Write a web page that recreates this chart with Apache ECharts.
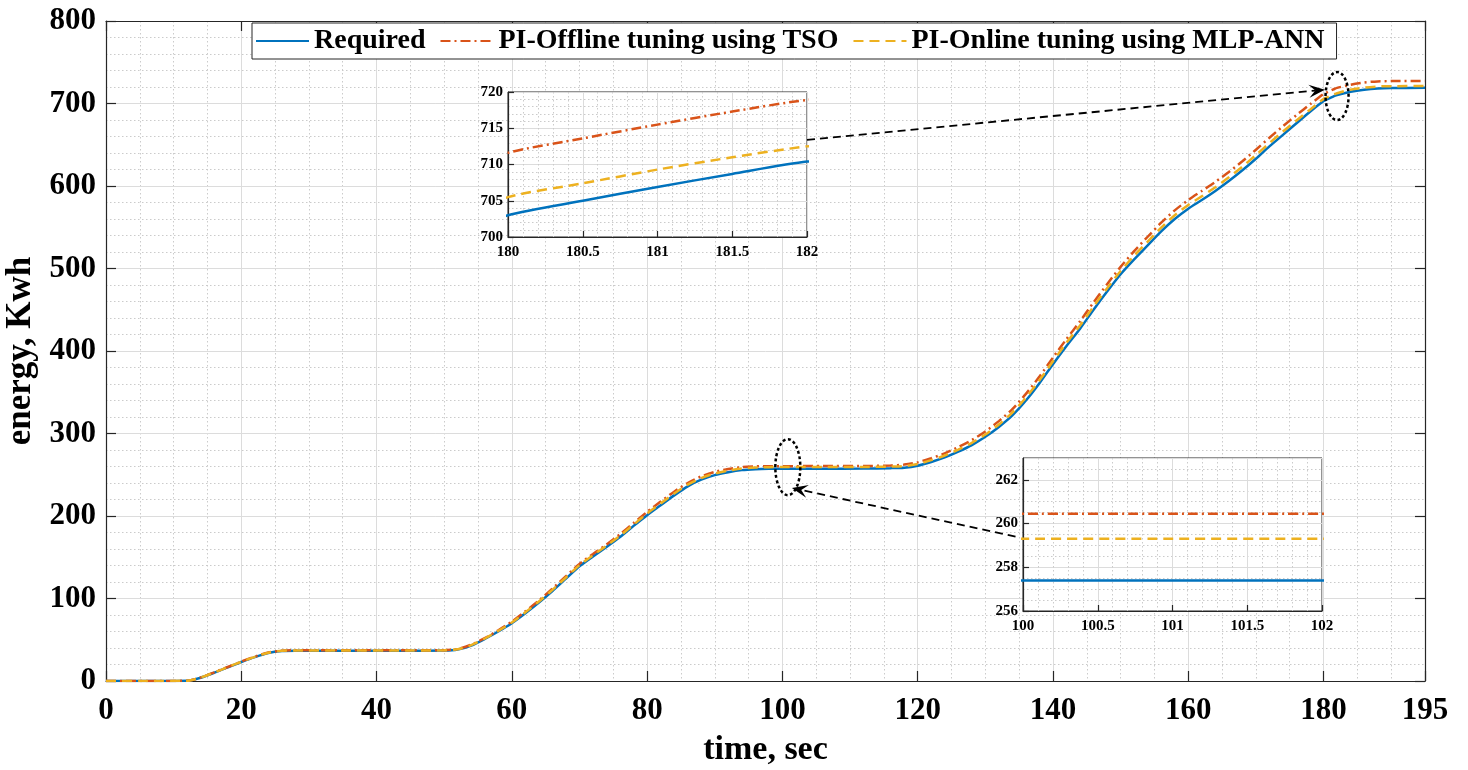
<!DOCTYPE html>
<html>
<head>
<meta charset="utf-8">
<title>energy vs time</title>
<script src="https://cdn.jsdelivr.net/npm/echarts@6/dist/echarts.min.js"></script>
<style>
  html, body { margin: 0; padding: 0; background: #fff; }
  #chart { width: 1468px; height: 770px; }
</style>
</head>
<body>
<div id="chart"></div>
<script>
// sample times (sec)
var timeSec = [0, 6, 12, 14, 16, 18, 20, 22, 24, 26, 28, 35, 45, 50,
  52, 54, 56, 58, 60, 62, 64, 66, 68, 70, 72, 74, 76, 78, 80, 82, 84, 86, 88, 90, 92, 94, 96, 98,
  100, 101, 102, 106, 112, 116,
  118, 120, 122, 124, 126, 128, 130, 132, 134, 136, 138, 140, 142, 144, 146, 148, 150, 152, 154, 156, 158,
  160, 162, 164, 166, 168, 170, 172, 174, 176, 178,
  180, 180.5, 181, 181.5, 182, 184, 186, 188, 190, 195];

// energy, Kwh
var required = [0, 0, 0.3, 4, 10, 16.5, 23, 29, 34, 36.3, 36.7, 36.7, 36.7, 36.9,
  38.2, 43, 51, 60, 70, 82, 95, 109, 124, 139, 151, 162.5, 174.5, 188, 201, 213, 225, 236, 244, 249.5, 253, 255.6, 256.8, 257.3,
  257.4, 257.4, 257.4, 257.4, 257.5, 258,
  258.6, 261, 265.5, 271, 278, 286, 296, 308, 322, 340, 361, 384, 406, 427, 450, 472, 493, 511, 528, 545, 560,
  572.5, 583, 594, 606, 619, 633, 648, 662, 676, 690,
  703, 705, 706.9, 708.7, 710.4, 714.3, 716.8, 718.3, 718.8, 719];

var offlineTso = [0, 0, 0.3, 4.3, 10.5, 17, 23.5, 29.5, 34.5, 36.8, 37.2, 37.2, 37.2, 37.4,
  38.8, 44, 52, 61.5, 72, 84.5, 97.5, 112, 127, 142, 154, 165.5, 178, 191.5, 205, 217.5, 229.5, 240, 248, 253.5, 257, 259.2, 260.1, 260.4,
  260.45, 260.45, 260.45, 260.5, 260.6, 261.2,
  262.3, 265, 270, 276, 283.5, 292, 302.5, 315, 329.5, 348, 369, 392, 414.5, 436, 459, 481, 502, 521, 538.5, 555.5, 570.5,
  583, 594, 605, 617, 630, 644, 658.5, 672.5, 686, 699,
  711.6, 713.6, 715.5, 717.3, 718.9, 722.8, 725.5, 726.8, 727.2, 727.3];

var onlineMlp = [0, 0, 0.3, 4.2, 10.3, 16.8, 23.3, 29.3, 34.3, 36.6, 37, 37, 37, 37.2,
  38.5, 43.5, 51.5, 60.8, 71, 83.3, 96.3, 110.5, 125.5, 140.5, 152.5, 164, 176, 189.5, 203, 215.3, 227.3, 238, 246, 251.5, 255, 257.5, 258.7, 259.2,
  259.3, 259.3, 259.3, 259.3, 259.4, 259.9,
  260.5, 263, 267.7, 273.3, 280.5, 288.7, 298.7, 311, 325.3, 343.5, 364.5, 387.5, 410, 431, 454, 476, 497, 515.5, 532.5, 549.5, 564.5,
  577, 587.5, 598.5, 610.5, 623.5, 637.5, 652, 666, 679.5, 692.5,
  705.5, 707.4, 709.3, 711, 712.5, 716.8, 719.3, 720.6, 721, 721.2];

var seriesNames = ['Required', 'PI-Offline tuning using TSO', 'PI-Online tuning using MLP-ANN'];
var seriesColors = ['#0072BD', '#D95319', '#EDB120'];
var seriesDash = ['solid', [10, 4, 2, 4], [10, 6]];

var FONT = "'Liberation Serif', 'Times New Roman', serif";

function pairs(values) {
  return values.map(function (v, i) { return [timeSec[i], v]; });
}

function minorAxis(grid, min, max, interval, z, position) {
  return {
    gridIndex: grid, type: 'value', min: min, max: max, interval: interval, z: z, position: position,
    axisLine: { show: false, onZero: false }, axisTick: { show: false }, axisLabel: { show: false },
    splitLine: { show: true, lineStyle: { color: '#cbcbcb', width: 1, type: [1.5, 2.5] } }
  };
}

function majorAxis(grid, min, max, interval, z, position, fontSize, tickLen, margin) {
  return {
    gridIndex: grid, type: 'value', min: min, max: max, interval: interval, z: z, position: position,
    axisLine: { show: true, onZero: false, lineStyle: { color: '#262626', width: 1.2 } },
    axisTick: { show: true, inside: true, length: tickLen, lineStyle: { color: '#262626', width: 1.2 } },
    axisLabel: { fontFamily: FONT, fontWeight: 'bold', fontSize: fontSize, color: '#000', margin: margin },
    splitLine: { show: true, lineStyle: { color: '#dcdcdc', width: 1 } }
  };
}

function sideAxis(grid, min, max, interval, position) {
  return {
    gridIndex: grid, type: 'value', min: min, max: max, interval: interval, position: position, z: 1,
    axisLine: { show: true, onZero: false, lineStyle: { color: '#262626', width: 1.2 } },
    axisTick: { show: true, inside: true, length: 10, lineStyle: { color: '#262626', width: 1.2 } },
    axisLabel: { show: false }, splitLine: { show: false }
  };
}

var mainX = majorAxis(0, 0, 195, 20, 1, 'bottom', 31, 10, 14);
mainX.name = 'time, sec';
mainX.nameLocation = 'middle';
mainX.nameGap = 52;
mainX.nameTextStyle = { fontFamily: FONT, fontWeight: 'bold', fontSize: 34, color: '#000' };

var mainY = majorAxis(0, 0, 800, 100, 1, 'left', 31, 10, 10);
mainY.name = 'energy, Kwh';
mainY.nameLocation = 'middle';
mainY.nameGap = 58;
mainY.nameTextStyle = { fontFamily: FONT, fontWeight: 'bold', fontSize: 35, color: '#000' };

var in1X = majorAxis(1, 180, 182, 0.5, 4, 'bottom', 15, 6, 8);
var in1Y = majorAxis(1, 700, 720, 5, 4, 'left', 15, 6, 5);
var in2X = majorAxis(2, 100, 102, 0.5, 4, 'bottom', 15, 6, 8);
var in2Y = majorAxis(2, 256, 263, 2, 4, 'left', 15, 6, 5);
in2Y.axisLabel.showMaxLabel = false;

var xAxes = [
  minorAxis(0, 0, 195, 5, 0, 'bottom'), mainX, sideAxis(0, 0, 195, 20, 'top'),
  minorAxis(1, 180, 182, 0.1, 4, 'bottom'), in1X,
  minorAxis(2, 100, 102, 0.1, 4, 'bottom'), in2X
];
var yAxes = [
  minorAxis(0, 0, 800, 20, 0, 'left'), mainY, sideAxis(0, 0, 800, 100, 'right'),
  minorAxis(1, 700, 720, 1, 4, 'left'), in1Y,
  minorAxis(2, 256, 263, 0.5, 4, 'left'), in2Y
];

var allValues = [required, offlineTso, onlineMlp];
var series = [];
// main plot, then the two zoom boxes
[[1, 2], [4, 5], [6, 5]].forEach(function (a) {
  allValues.forEach(function (vals, k) {
    series.push({
      name: seriesNames[k], type: 'line', xAxisIndex: a[0], yAxisIndex: a[0], z: a[1],
      data: pairs(vals), symbol: 'none', clip: true, smooth: 0.25,
      lineStyle: { color: seriesColors[k], width: 2.5, type: seriesDash[k] },
      itemStyle: { color: seriesColors[k] }
    });
  });
});

var chart = echarts.init(document.getElementById('chart'));
chart.setOption({
  animation: false,
  backgroundColor: '#fff',
  grid: [
    { left: 106, top: 21, right: 43, bottom: 89, z: 0, outerBoundsMode: 'none' },
    { left: 508, top: 92, right: 661, bottom: 533, z: 3, outerBoundsMode: 'none',
      show: true, backgroundColor: '#fff', borderColor: '#262626', borderWidth: 1 },
    { left: 1023, top: 458, right: 146, bottom: 159, z: 3, outerBoundsMode: 'none',
      show: true, backgroundColor: '#fff', borderColor: '#262626', borderWidth: 1 }
  ],
  legend: {
    data: seriesNames, left: 252, top: 23, orient: 'horizontal',
    itemWidth: 53, itemHeight: 14, itemGap: 14, padding: [4, 12, 4, 3],
    itemStyle: { opacity: 0 },
    backgroundColor: '#fff', borderColor: '#262626', borderWidth: 1, z: 6,
    textStyle: { fontFamily: FONT, fontWeight: 'bold', fontSize: 28, color: '#000' }
  },
  xAxis: xAxes,
  yAxis: yAxes,
  series: series
});

// ellipses and arrows pointing at the zoomed regions
function px(ax, pt) { return chart.convertToPixel({ xAxisIndex: ax, yAxisIndex: ax }, pt); }

function arrow(from, to) {
  var dx = to[0] - from[0], dy = to[1] - from[1];
  var len = Math.sqrt(dx * dx + dy * dy);
  var ux = dx / len, uy = dy / len, nx = -uy, ny = ux;
  var L = 16, W = 6.5;
  var bx = to[0] - ux * L, by = to[1] - uy * L;
  var notch = [to[0] - ux * L * 0.6, to[1] - uy * L * 0.6];
  return [
    { type: 'line', z: 10, shape: { x1: from[0], y1: from[1], x2: notch[0], y2: notch[1] },
      style: { stroke: '#000', lineWidth: 1.8, lineDash: [8, 5] } },
    { type: 'polygon', z: 10, shape: { points: [to, [bx + nx * W, by + ny * W], notch, [bx - nx * W, by - ny * W]] },
      style: { fill: '#000' } }
  ];
}

function ring(c, rx, ry) {
  return { type: 'ellipse', z: 10, shape: { cx: c[0], cy: c[1], rx: rx, ry: ry },
    style: { fill: 'none', stroke: '#000', lineWidth: 2.5, lineDash: [3, 2.5] } };
}

var marks = [ring(px(1, [182, 709]), 11.5, 24), ring(px(1, [100.8, 259.2]), 12.5, 28)]
  .concat(arrow(px(4, [182, 713.4]), px(1, [180.2, 716.8])))
  .concat(arrow(px(6, [99.95, 259.4]), px(1, [101.4, 234])));

chart.setOption({ graphic: marks });
</script>
</body>
</html>
